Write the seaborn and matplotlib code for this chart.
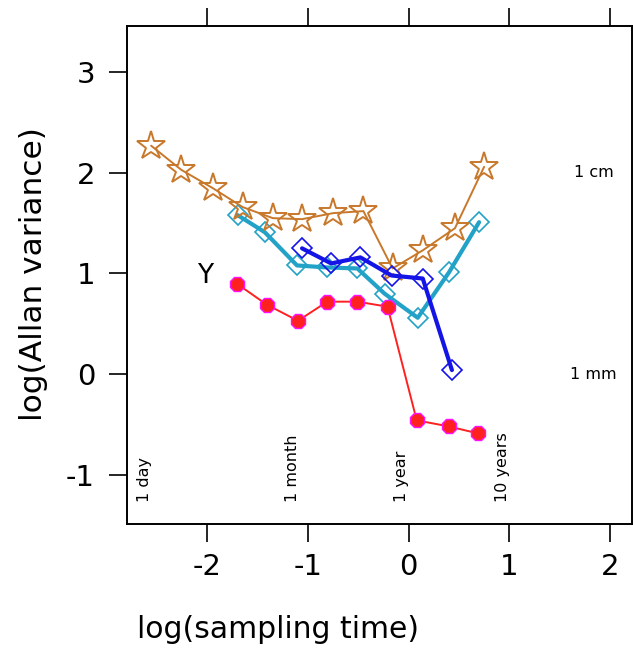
import matplotlib
matplotlib.use("Agg")
import matplotlib.pyplot as plt
import seaborn as sns
import pandas as pd

# --- data (log10 of sampling time in years, log10 Allan variance) ---
star_x = [-2.56, -2.26, -1.95, -1.65, -1.35, -1.06, -0.75, -0.45, -0.16, 0.14, 0.46, 0.75]
star_y = [2.27, 2.03, 1.85, 1.66, 1.55, 1.54, 1.60, 1.62, 1.05, 1.23, 1.45, 2.06]

cyan_x = [-1.70, -1.43, -1.11, -0.81, -0.51, -0.24, 0.09, 0.40, 0.70]
cyan_y = [1.58, 1.41, 1.08, 1.06, 1.05, 0.80, 0.56, 1.01, 1.51]

blue_x = [-1.06, -0.77, -0.48, -0.17, 0.14, 0.43]
blue_y = [1.25, 1.10, 1.16, 0.98, 0.95, 0.04]

red_x = [-1.71, -1.41, -1.10, -0.81, -0.51, -0.21, 0.08, 0.40, 0.69]
red_y = [0.90, 0.69, 0.53, 0.72, 0.72, 0.67, -0.46, -0.52, -0.59]

time_labels = ["1 day", "1 month", "1 year", "10 years"]
time_pos = [-2.56, -1.08, 0.0, 1.0]
scale_labels = ["1 cm", "1 mm"]
scale_pos = [2.0, 0.0]
x_ticks = [-2, -1, 0, 1, 2]
y_ticks = [-1, 0, 1, 2, 3]

sns.set_style("ticks")
plt.rcParams["font.family"] = ["DejaVu Sans"]
plt.rcParams["axes.unicode_minus"] = False
plt.rcParams["text.color"] = "black"
plt.rcParams["xtick.color"] = "black"
plt.rcParams["ytick.color"] = "black"
plt.rcParams["axes.labelcolor"] = "black"

fig = plt.figure(figsize=(6.33, 6.49), dpi=100)
ax = fig.add_axes([127 / 633, 1 - 524 / 649, (632 - 127) / 633, (524 - 26) / 649])

orange = "#c8782a"
cyan = "#22a2c6"
blue = "#1414e6"
red = "#ff2020"

sns.lineplot(x=star_x, y=star_y, ax=ax, sort=False, color=orange, lw=1.4,
             marker="*", markersize=21, markerfacecolor="none",
             markeredgecolor=orange, markeredgewidth=1.4, zorder=3)
sns.lineplot(x=cyan_x, y=cyan_y, ax=ax, sort=False, color=cyan, lw=3.0,
             marker="D", markersize=10, markerfacecolor="none",
             markeredgecolor=cyan, markeredgewidth=1.2, zorder=2)
sns.lineplot(x=blue_x, y=blue_y, ax=ax, sort=False, color=blue, lw=3.0,
             marker="D", markersize=10, markerfacecolor="none",
             markeredgecolor=blue, markeredgewidth=1.2, zorder=4)
sns.lineplot(x=red_x, y=red_y, ax=ax, sort=False, color=red, lw=1.4,
             marker="8", markersize=11, markerfacecolor=red,
             markeredgecolor="#ff10ff", markeredgewidth=1.0, zorder=5)

ax.set_xlim(-2.8, 2.22)
ax.set_ylim(-1.49, 3.46)
ax.set_xticks(x_ticks)
ax.set_yticks(y_ticks)
ax.tick_params(axis="both", direction="out", length=13, width=1.2,
               labelsize=21, pad=8, color="black", labelcolor="black")
ax.tick_params(axis="x", top=True, labeltop=False)
ax.tick_params(axis="y", pad=10)
for s in ax.spines.values():
    s.set_linewidth(1.4)
    s.set_color("black")

ax.set_xlabel("")
ax.set_ylabel("")
fig.text(278 / 633, 1 - 630 / 649, "log(sampling time)", ha="center",
         va="center", fontsize=21.5, color="black")
fig.text(34 / 633, 1 - 274 / 649, "log(Allan variance)", ha="center",
         va="center", rotation=90, fontsize=22.5, color="black")

for lab, xp in zip(time_labels, time_pos):
    ax.text(xp - 0.07, -1.27, lab, rotation=90, ha="center", va="bottom",
            fontsize=11.5, color="black")
for lab, yp in zip(scale_labels, scale_pos):
    ax.text(1.84, yp, lab, ha="center", va="center", fontsize=11.5, color="black")

ax.text(-2.02, 0.98, "Y", ha="center", va="center", fontsize=19, color="black")

fig.savefig("out.png", dpi=100)
